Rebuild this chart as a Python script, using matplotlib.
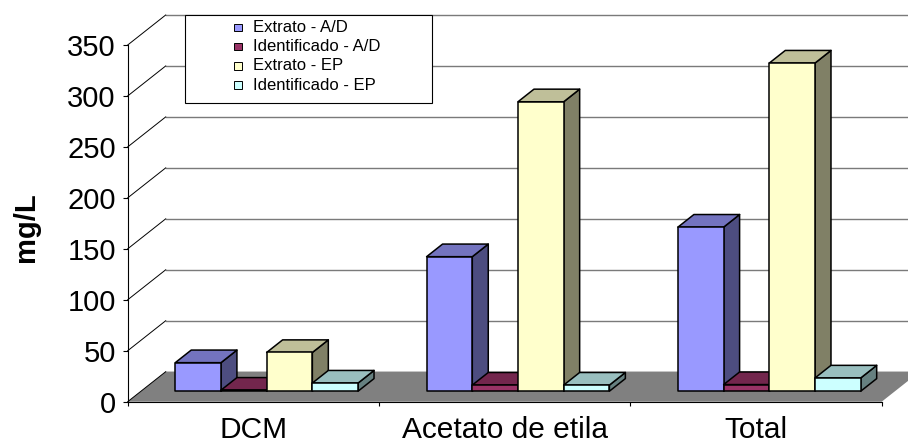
import matplotlib
matplotlib.use("Agg")
import matplotlib.pyplot as plt
from matplotlib.patches import Polygon, Rectangle
from matplotlib.lines import Line2D
from matplotlib.colors import to_rgb

plt.rcParams['font.family'] = ['Liberation Sans', 'DejaVu Sans']

# ---- data -------------------------------------------------------------
categories = ['DCM', 'Acetato de etila', 'Total']
series_names = ['Extrato - A/D', 'Identificado - A/D', 'Extrato - EP', 'Identificado - EP']
extrato_ad = [28, 132, 161]
identificado_ad = [1, 6, 6.5]
extrato_ep = [38, 284, 322]
identificado_ep = [8, 6, 13]
series_values = [extrato_ad, identificado_ad, extrato_ep, identificado_ep]
series_colors = ['#9999FF', '#993366', '#FFFFCC', '#CCFFFF']
y_ticks = [0, 50, 100, 150, 200, 250, 300, 350]
y_label = 'mg/L'

# ---- layout -----------------------------------------------------------
W, H = 908, 443
fig = plt.figure(figsize=(W / 100, H / 100), dpi=100)

# front plane of the plotting box, in pixels
fx0, fx1 = 127.7, 881.7
fy0, fy1 = 401.7, 45.0
ax = fig.add_axes([fx0 / W, 1 - fy0 / H, (fx1 - fx0) / W, (fy0 - fy1) / H])
ncat = len(categories)
ymax = y_ticks[-1]
ax.set_xlim(0, ncat)
ax.set_ylim(0, ymax)
ax.patch.set_visible(False)

px_x = (fx1 - fx0) / ncat
px_y = (fy0 - fy1) / ymax
# oblique depth offset of the back wall (pixels -> data units)
DX = 38.0 / px_x
DY = 30.0 / px_y


def proj(x, y, z):
    """Oblique projection: z = 0 front plane, z = 1 back wall."""
    return (x + z * DX, y + z * DY)


def shade(color, f):
    r, g, b = to_rgb(color)
    return (r * f, g * f, b * f)


# back-wall gridlines
for v in y_ticks:
    a = proj(0, v, 1)
    b = proj(ncat + 0.2, v, 1)
    ax.add_line(Line2D([a[0], b[0]], [a[1], b[1]], color='#7a7a7a', lw=1.0,
                       zorder=0.5, clip_on=False))

# floor
floor = [proj(0, 0, 0), proj(ncat, 0, 0), proj(ncat, 0, 1), proj(0, 0, 1)]
ax.add_patch(Polygon(floor, closed=True, facecolor='#808080', edgecolor='none',
                     zorder=1, clip_on=False))

# side-wall gridlines (diagonals)
for v in y_ticks:
    a = proj(0, v, 0)
    b = proj(0, v, 1)
    ax.add_line(Line2D([a[0], b[0]], [a[1], b[1]], color='black', lw=0.7,
                       zorder=2, clip_on=False))

# ---- 3-D columns ------------------------------------------------------
nser = len(series_values)
gap = 1.5
bw = 1.0 / (nser + gap)
zf, zb = 0.35, 0.77
edge_kw = dict(edgecolor='black', linewidth=1.1, joinstyle='round', clip_on=False)

zo = 3
for i in range(ncat):
    for j in range(nser):
        v = series_values[j][i]
        col = series_colors[j]
        xl = i + gap / 2 * bw + j * bw
        xr = xl + bw
        side = [proj(xr, 0, zf), proj(xr, 0, zb), proj(xr, v, zb), proj(xr, v, zf)]
        top = [proj(xl, v, zf), proj(xr, v, zf), proj(xr, v, zb), proj(xl, v, zb)]
        front = [proj(xl, 0, zf), proj(xr, 0, zf), proj(xr, v, zf), proj(xl, v, zf)]
        ax.add_patch(Polygon(side, closed=True, facecolor=shade(col, 0.5), zorder=zo, **edge_kw))
        ax.add_patch(Polygon(top, closed=True, facecolor=shade(col, 0.75), zorder=zo, **edge_kw))
        ax.add_patch(Polygon(front, closed=True, facecolor=col, zorder=zo, **edge_kw))
        zo += 0.01

# ---- axes, ticks, labels ---------------------------------------------
for s in ('top', 'right'):
    ax.spines[s].set_visible(False)
for s in ('left', 'bottom'):
    ax.spines[s].set_color('black')
    ax.spines[s].set_linewidth(0.8)
    ax.spines[s].set_zorder(2.5)

ax.set_yticks(y_ticks)
ax.set_yticklabels([str(t) for t in y_ticks])
ax.tick_params(axis='y', direction='out', length=3.6, width=0.8, pad=5.0,
               labelsize=21, colors='black')

ax.set_xticks(range(ncat + 1))
ax.set_xticklabels([])
ax.tick_params(axis='x', which='major', direction='out', length=2.9, width=0.8)
ax.set_xticks([i + 0.5 for i in range(ncat)], minor=True)
ax.set_xticklabels(categories, minor=True)
ax.tick_params(axis='x', which='minor', length=0, pad=10, labelsize=21.5)

fig.text(26 / W, 1 - 227 / H, y_label, rotation=90, ha='center', va='center',
         fontsize=21, fontweight='bold')

# ---- legend -----------------------------------------------------------
lx0, lx1, ly0, ly1 = 185.0, 432.0, 15.3, 103.3
fig.add_artist(Rectangle((lx0 / W, 1 - ly1 / H), (lx1 - lx0) / W, (ly1 - ly0) / H,
                         transform=fig.transFigure, facecolor='white',
                         edgecolor='black', linewidth=0.8, zorder=10))
row0, drow = 27.5, 19.2
sq = 7.5
for k, (name, col) in enumerate(zip(series_names, series_colors)):
    cy = row0 + k * drow
    fig.add_artist(Rectangle((234.5 / W, 1 - (cy + sq / 2) / H), sq / W, sq / H,
                             transform=fig.transFigure, facecolor=col,
                             edgecolor='black', linewidth=0.7, zorder=11))
    fig.text(253.0 / W, 1 - cy / H, name, ha='left', va='center',
             fontsize=12, zorder=11)

fig.savefig('out.png', dpi=100)
